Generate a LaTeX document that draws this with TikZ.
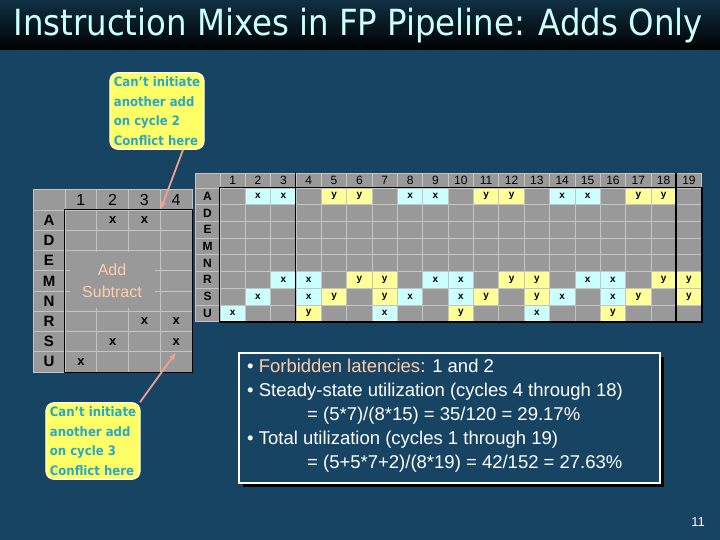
\documentclass[tikz,border=0pt]{standalone}
\usepackage{fontspec}
\setmainfont{Liberation Sans}
\newfontfamily\titlefont{DejaVu Sans Condensed}
\usetikzlibrary{arrows.meta}
\definecolor{bg}{HTML}{164462}
\definecolor{cellg}{HTML}{999999}
\definecolor{gridl}{HTML}{C4C4C4}
\definecolor{cx}{HTML}{CCFFFF}
\definecolor{cy}{HTML}{FFFF99}
\definecolor{callf}{HTML}{FFFF66}
\definecolor{callt}{HTML}{2AA6C8}
\definecolor{arr}{HTML}{F0A090}
\definecolor{peach}{HTML}{FFCCAA}
\definecolor{titlec}{HTML}{CCFFFF}
\begin{document}
\begin{tikzpicture}[x=1pt,y=-1pt,
  cell/.style={draw=gridl,line width=0.8pt,fill=cellg,minimum width=25.35pt,minimum height=16.7pt,inner sep=0pt,font=\bfseries\fontsize{10}{10}\selectfont},
  scell/.style={draw=gridl,line width=0.8pt,fill=cellg,minimum width=31.75pt,minimum height=20.25pt,inner sep=0pt,font=\bfseries\fontsize{13}{13}\selectfont},
  callout/.style={draw=white,line width=1pt,fill=callf,rounded corners=8pt,align=left,text=callt,font=\titlefont\bfseries\fontsize{13}{19.5}\selectfont,inner sep=4pt},
  conn/.style={-{Latex[length=8pt,width=6pt]},arr,line width=1.8pt}]
\useasboundingbox (0,0) rectangle (720,540);
\fill[bg] (0,0) rectangle (720,540);
\shade[top color=bg!70!black,bottom color=black] (0,0) rectangle (720,50);
\node[anchor=west,text=titlec,font=\titlefont\fontsize{36}{36}\selectfont] (title) at (10,26) {Instruction Mixes in FP Pipeline: Adds Only};
% big table
\def\bx{195}\def\bl{25}\def\bw{25.35}\def\by{173}\def\bh{16.7}
\node[cell,minimum width=25pt,minimum height=15pt] (bhh) at ({\bx+12.5},{\by+7.5}) {};
\foreach \c in {1,...,19}{
  \node[cell,minimum height=15pt,font=\fontsize{12}{12}\selectfont] (bh\c) at ({\bx+\bl+(\c-0.5)*\bw},{\by+7.5}) {\c};}
\foreach \r/\l [count=\i] in {A/A,D/D,E/E,M/M,N/N,R/R,S/S,U/U}{
  \node[cell,minimum width=25pt,font=\bfseries\fontsize{12}{12}\selectfont] (bl\r) at ({\bx+12.5},{\by+15+(\i-0.5)*\bh}) {\l};
  \foreach \c in {1,...,19}{
    \node[cell] (b\r\c) at ({\bx+\bl+(\c-0.5)*\bw},{\by+15+(\i-0.5)*\bh}) {};}}
\foreach \r/\i/\xs/\ys in {A/1/{2,3,8,9,14,15}/{5,6,11,12,17,18},R/6/{3,4,9,10,15,16}/{6,7,12,13,18,19},S/7/{2,4,8,10,14,16}/{5,7,11,13,17,19},U/8/{1,7,13}/{4,10,16}}{
  \foreach \c in \xs {\node[cell,fill=cx] at (b\r\c) {x};}
  \foreach \c in \ys {\node[cell,fill=cy] at (b\r\c) {y};}}
\draw[line width=1.3pt] (bA1.north west) rectangle (bU19.south east);
\draw[line width=1.3pt] (bh4.north west) -- (bU4.south west);
\draw[line width=1.3pt] (bh19.north west) -- (bU19.south west);
% small table
\def\sx{33}\def\sl{32}\def\sw{31.75}\def\sy{190}\def\sh{20.25}
\node[scell,minimum width=32pt] (shh) at ({\sx+16},{\sy+10}) {};
\foreach \c in {1,...,4}{
  \node[scell,font=\fontsize{16}{16}\selectfont] (sh\c) at ({\sx+\sl+(\c-0.5)*\sw},{\sy+10}) {\c};}
\foreach \r [count=\i] in {A,D,E,M,N,R,S,U}{
  \node[scell,minimum width=32pt,font=\bfseries\fontsize{15}{15}\selectfont] (sl\r) at ({\sx+16},{\sy+20+(\i-0.5)*\sh}) {\r};
  \foreach \c in {1,...,4}{
    \node[scell] (s\r\c) at ({\sx+\sl+(\c-0.5)*\sw},{\sy+20+(\i-0.5)*\sh}) {};}}
\foreach \cc in {sA2,sA3,sR3,sR4,sS2,sS4,sU1}{\node[scell] at (\cc) {x};}
\draw[line width=1.3pt] (sA1.north west) rectangle (sU4.south east);
\fill[cellg] (70,252) rectangle (155,308);
\node[text=peach,align=center,font=\fontsize{16}{22}\selectfont] (addsub) at (112,281) {Add\\Subtract};
% callouts
\node[callout] (c1) at (157,111) {Can’t initiate\\another add\\on cycle 2\\Conflict here};
\node[callout] (c2) at (93,441) {Can’t initiate\\another add\\on cycle 3\\Conflict here};
\draw[conn] (c1.south) ++(26,0) -- (sA3.north east);
\draw[conn] (c2.north) ++(47,0) -- (sS4.south);
% text box
\fill[black] (243,357) rectangle (664,487);
\node[draw=white,line width=1.5pt,fill=bg,minimum width=421pt,minimum height=130pt,anchor=north west] (tb) at (238,352) {};
\node[anchor=north west,align=left,text=white,font=\fontsize{18.5}{24}\selectfont,inner sep=0pt] (tbt) at (247,359) {%
\textbullet\ \textcolor{peach}{Forbidden latencies}: 1 and 2\\
\textbullet\ Steady-state utilization (cycles 4 through 18)\\
\hspace*{60pt}= (5*7)/(8*15) = 35/120 = 29.17\%\\
\textbullet\ Total utilization (cycles 1 through 19)\\
\hspace*{60pt}= (5+5*7+2)/(8*19) = 42/152 = 27.63\%};
\node[text=white,font=\fontsize{13}{13}\selectfont] (pg) at (698,522) {11};
\end{tikzpicture}
\end{document}
